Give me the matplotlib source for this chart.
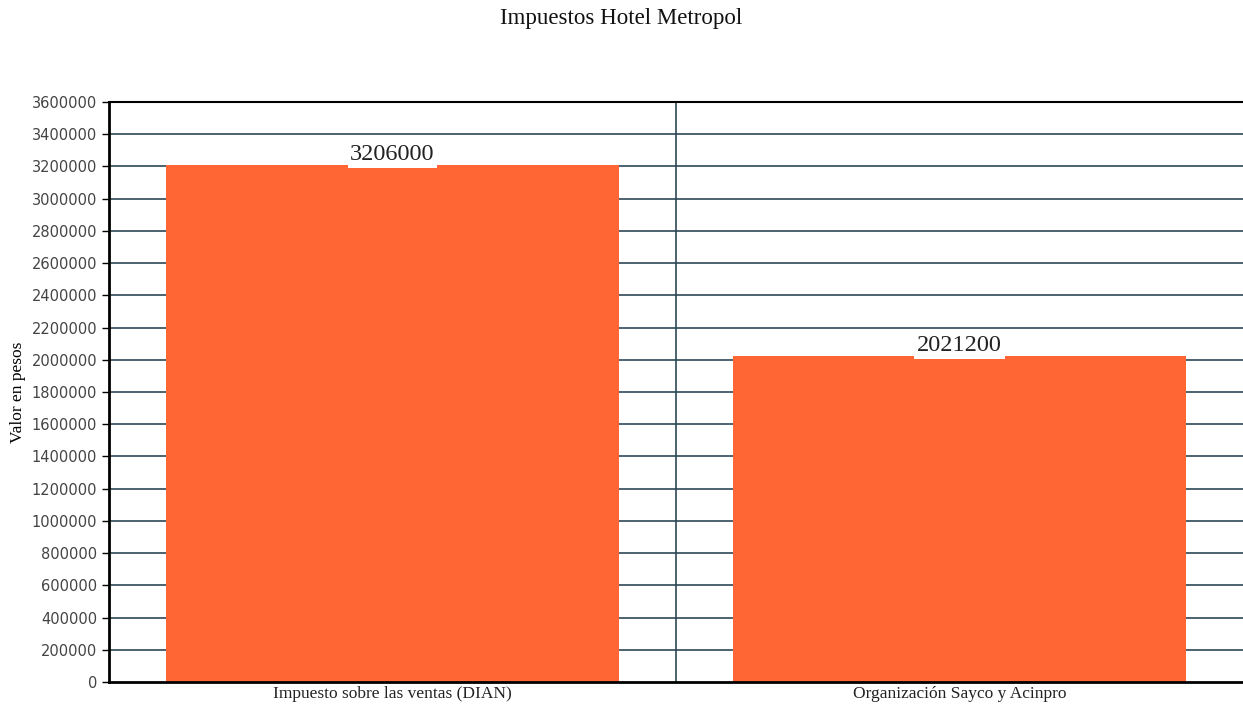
import matplotlib
matplotlib.use("Agg")
import matplotlib.pyplot as plt
import numpy as np

# data
categorias = ["Impuesto sobre las ventas (DIAN)", "Organización Sayco y Acinpro"]
valores = [3206000, 2021200]
yticks = np.arange(0, 3600001, 200000)

fig = plt.figure(figsize=(12.43, 7.06), dpi=100)
ax = fig.add_axes([0.0877, 0.034, 0.9123, 0.8215])

x = np.arange(len(categorias))
ax.bar(x, valores, width=0.8, color="#FF6633", zorder=2)

# gridlines
for yt in yticks[1:-1]:
    ax.axhline(yt, color="#2F4858", lw=1.2, zorder=1)
ax.axvline(0.5, color="#2F4858", lw=1.2, zorder=1)

ax.set_xlim(-0.5, 1.5)
ax.set_ylim(0, 3600000)
ax.set_yticks(yticks)
ax.set_yticklabels([str(v) for v in yticks], fontsize=10.5, color="#444444")
ax.set_xticks(x)
ax.set_xticklabels(categorias, fontsize=12.5, family="Liberation Serif", color="#222222")
ax.tick_params(axis="y", length=5, width=1)
ax.tick_params(axis="x", length=0, pad=3)

ax.spines["right"].set_visible(False)
ax.spines["top"].set_linewidth(1.5)
ax.spines["left"].set_linewidth(2)
ax.spines["bottom"].set_linewidth(2)

for xi, v in zip(x, valores):
    ax.text(xi, v, str(v), ha="center", va="bottom", fontsize=17.5,
            family="Liberation Serif", color="#222222", zorder=3,
            bbox=dict(facecolor="white", edgecolor="none", pad=2))

ax.set_ylabel("Valor en pesos", fontsize=12.5, family="Liberation Serif", labelpad=4)
fig.text(0.5, 0.974, "Impuestos Hotel Metropol", ha="center", va="center",
         fontsize=16.5, family="Liberation Serif", color="#111111")

fig.savefig("out.png", dpi=100)
